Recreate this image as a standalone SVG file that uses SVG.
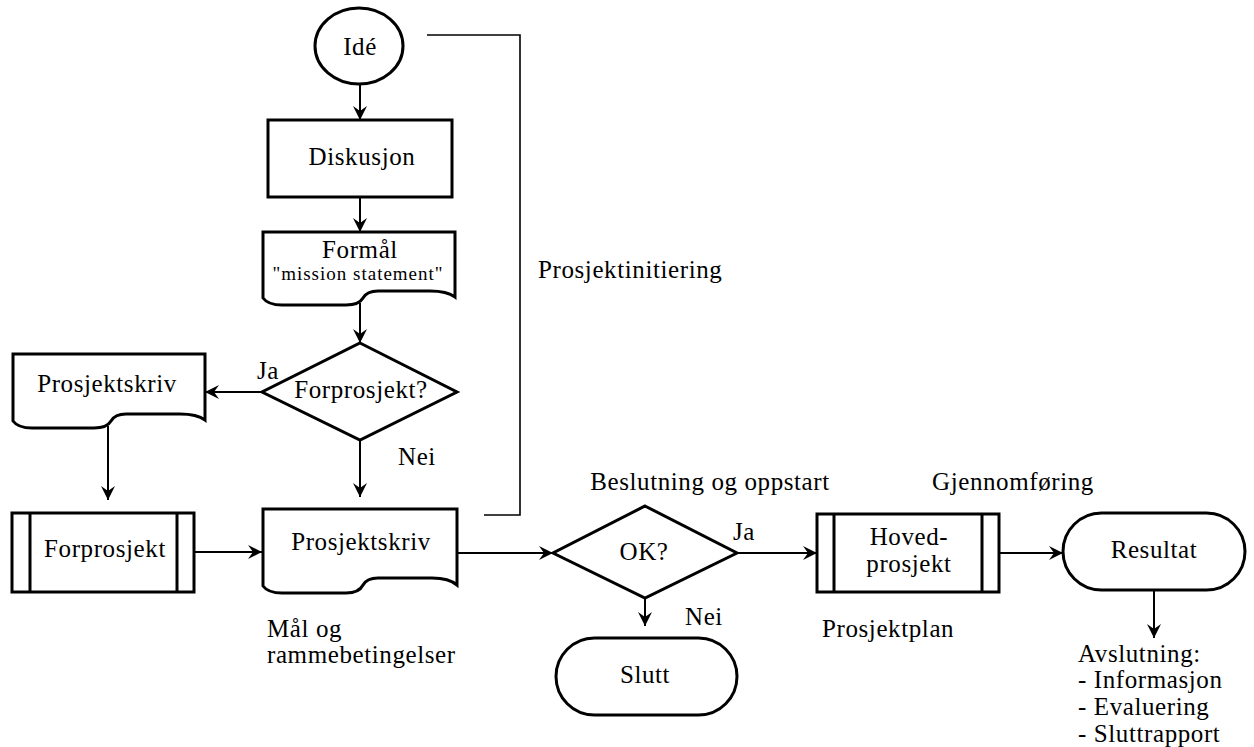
<svg xmlns="http://www.w3.org/2000/svg" width="1254" height="747" viewBox="0 0 1254 747">
  <defs>
    <marker id="arrow" markerUnits="userSpaceOnUse" markerWidth="16" markerHeight="14" refX="14" refY="7" orient="auto">
      <path d="M0,0 L14,7 L0,14 L5,7 Z" fill="#000"/>
    </marker>
    <style>
      .shape { fill: #fff; stroke: #000; stroke-width: 3; stroke-linejoin: miter; }
      .bar { stroke: #000; stroke-width: 3; }
      .conn { fill: none; stroke: #000; stroke-width: 2; marker-end: url(#arrow); }
      .bracket { fill: none; stroke: #000; stroke-width: 1.6; }
      text { font-family: "Liberation Serif", "Times New Roman", "DejaVu Serif", serif; font-size: 25px; letter-spacing: 0.6px; fill: #000; }
      .c { text-anchor: middle; }
      .small { font-size: 19px; letter-spacing: 1px; }
    </style>
  </defs>

  <rect width="1254" height="747" fill="#fff"/>

  <!-- connectors -->
  <g id="connectors">
    <line class="conn" x1="360" y1="84" x2="360" y2="120"/>
    <line class="conn" x1="360" y1="197" x2="360" y2="232"/>
    <line class="conn" x1="360" y1="303" x2="360" y2="343"/>
    <line class="conn" x1="262" y1="392" x2="205" y2="392"/>
    <line class="conn" x1="108" y1="426" x2="108" y2="500"/>
    <line class="conn" x1="194" y1="552" x2="262" y2="552"/>
    <line class="conn" x1="360" y1="440" x2="360" y2="497"/>
    <line class="conn" x1="457" y1="553" x2="553" y2="553"/>
    <line class="conn" x1="737" y1="553" x2="817" y2="553"/>
    <line class="conn" x1="645" y1="598" x2="645" y2="626"/>
    <line class="conn" x1="999" y1="553" x2="1063" y2="553"/>
    <line class="conn" x1="1154" y1="590" x2="1154" y2="638"/>
    <polyline class="bracket" points="427,35 520,35 520,515 484,515"/>
  </g>

  <!-- start -->
  <g id="ide">
    <ellipse class="shape" cx="359" cy="46" rx="44" ry="38"/>
    <text class="c" x="360" y="55">Idé</text>
  </g>

  <g id="diskusjon">
    <rect class="shape" x="268" y="120" width="184" height="77"/>
    <text class="c" x="362" y="165">Diskusjon</text>
  </g>

  <g id="formaal">
    <path class="shape" d="M263,232 H455 V297 Q447,291 430,291 H378 Q367,291 363,298 Q359,305 346,305 H282 Q268,305 263,298 Z"/>
    <text class="c" x="360" y="258">Formål</text>
    <text class="c small" x="358" y="280">"mission statement"</text>
  </g>

  <g id="forprosjekt-valg">
    <polygon class="shape" points="360,343 457,392 360,440 262,392"/>
    <text class="c" x="361" y="398">Forprosjekt?</text>
    <text x="257" y="379">Ja</text>
    <text x="398" y="465">Nei</text>
  </g>

  <g id="prosjektskriv-forprosjekt">
    <path class="shape" d="M13,354 H205 V420 Q197,414 180,414 H126 Q115,414 111,421 Q107,428 94,428 H32 Q18,428 13,421 Z"/>
    <text class="c" x="107" y="392">Prosjektskriv</text>
  </g>

  <g id="forprosjekt">
    <rect class="shape" x="12" y="513" width="182" height="79"/>
    <line class="bar" x1="30" y1="513" x2="30" y2="592"/>
    <line class="bar" x1="177" y1="513" x2="177" y2="592"/>
    <text class="c" x="105" y="557">Forprosjekt</text>
  </g>

  <g id="prosjektskriv">
    <path class="shape" d="M263,509 H457 V585 Q449,578 432,578 H378 Q367,578 363,585 Q359,593 346,593 H282 Q268,593 263,586 Z"/>
    <text class="c" x="361" y="550">Prosjektskriv</text>
    <text x="267" y="637">Mål og</text>
    <text x="267" y="663">rammebetingelser</text>
  </g>

  <g id="prosjektinitiering">
    <text x="538" y="278">Prosjektinitiering</text>
  </g>

  <g id="ok-valg">
    <polygon class="shape" points="645,506 737,553 645,598 553,553"/>
    <text class="c" x="644" y="560">OK?</text>
    <text class="c" x="710" y="490">Beslutning og oppstart</text>
    <text x="733" y="540">Ja</text>
    <text x="685" y="625">Nei</text>
  </g>

  <g id="slutt">
    <rect class="shape" x="556" y="638" width="181" height="77" rx="38.5" ry="38.5"/>
    <text class="c" x="645" y="683">Slutt</text>
  </g>

  <g id="hovedprosjekt">
    <rect class="shape" x="817" y="514" width="182" height="78"/>
    <line class="bar" x1="834" y1="514" x2="834" y2="592"/>
    <line class="bar" x1="982" y1="514" x2="982" y2="592"/>
    <text class="c" x="909" y="545">Hoved-</text>
    <text class="c" x="909" y="572">prosjekt</text>
    <text class="c" x="1013" y="490">Gjennomføring</text>
    <text x="822" y="637">Prosjektplan</text>
  </g>

  <g id="resultat">
    <rect class="shape" x="1063" y="513" width="182" height="77" rx="38.5" ry="38.5"/>
    <text class="c" x="1154" y="558">Resultat</text>
  </g>

  <g id="avslutning">
    <text x="1078" y="662">Avslutning:</text>
    <text x="1078" y="688">- Informasjon</text>
    <text x="1078" y="715">- Evaluering</text>
    <text x="1078" y="742">- Sluttrapport</text>
  </g>
</svg>
